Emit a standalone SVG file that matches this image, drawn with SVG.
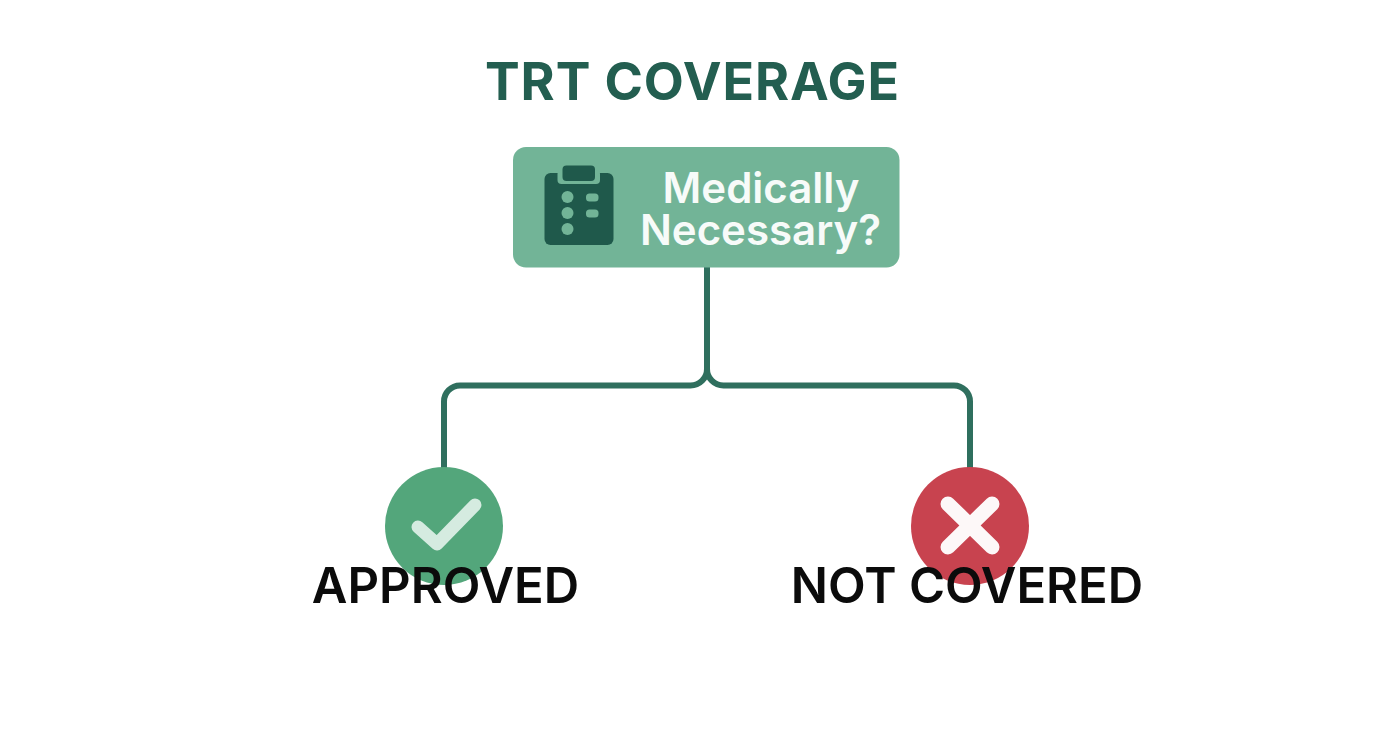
<svg xmlns="http://www.w3.org/2000/svg" width="1392" height="752" viewBox="0 0 1392 752">
<style>
.t{font-family:Inter,"Liberation Sans",sans-serif;text-anchor:middle}
.lbl{font-size:49px;font-weight:600;fill:#0b0b0b}
.wh{font-size:42px;font-weight:600;fill:#f7fbf9}
.ln{fill:none;stroke:#2f6f5e;stroke-width:6}
.fill{fill:#72b497}
.dark{fill:#1f594b}
</style>
<rect width="1392" height="752" fill="#fff"/>
<g id="connectors">
<path class="ln" d="M707 267V369A16.500 16.500 0 0 1 690.500 385.500H460A16 16 0 0 0 444 401.500V470"/>
<path class="ln" d="M707 369A16.500 16.500 0 0 0 723.500 385.500H954A16 16 0 0 1 970 401.500V470"/>
</g>
<g id="title"><text class="t" x="692.500" y="100" font-size="52" font-weight="700" letter-spacing="0.9" fill="#235e50">TRT COVERAGE</text></g>
<g id="decision">
<rect class="fill" x="513" y="147" width="386.500" height="120.500" rx="13"/>
<rect class="dark" x="544.500" y="173" width="69" height="72" rx="6"/>
<rect class="fill" x="557.500" y="170" width="42.500" height="14" rx="4"/>
<rect class="dark" x="562.500" y="165.500" width="32.500" height="15.500" rx="4"/>
<circle class="fill" cx="567.500" cy="197" r="6"/>
<circle class="fill" cx="567.500" cy="213" r="6"/>
<circle class="fill" cx="567.500" cy="229" r="6"/>
<rect class="fill" x="586" y="193.500" width="12.500" height="8" rx="3.500"/>
<rect class="fill" x="586" y="209.500" width="12.500" height="8" rx="3.500"/>
<text class="t wh" x="761" y="203">Medically</text>
<text class="t wh" x="760.500" y="245">Necessary?</text>
</g>
<g id="approved">
<circle cx="444" cy="526" r="59" fill="#53a67b"/>
<path d="M418 527L437 544L475 505" fill="none" stroke="#d5ebe0" stroke-width="13" stroke-linecap="round" stroke-linejoin="round"/>
<text class="t lbl" x="445.500" y="603">APPROVED</text>
</g>
<g id="not-covered">
<circle cx="970" cy="526" r="59" fill="#c8434f"/>
<path d="M948 504L992 547M992 504L948 547" fill="none" stroke="#fdf8f8" stroke-width="15" stroke-linecap="round"/>
<text class="t lbl" x="967" y="603">NOT COVERED</text>
</g>
</svg>
